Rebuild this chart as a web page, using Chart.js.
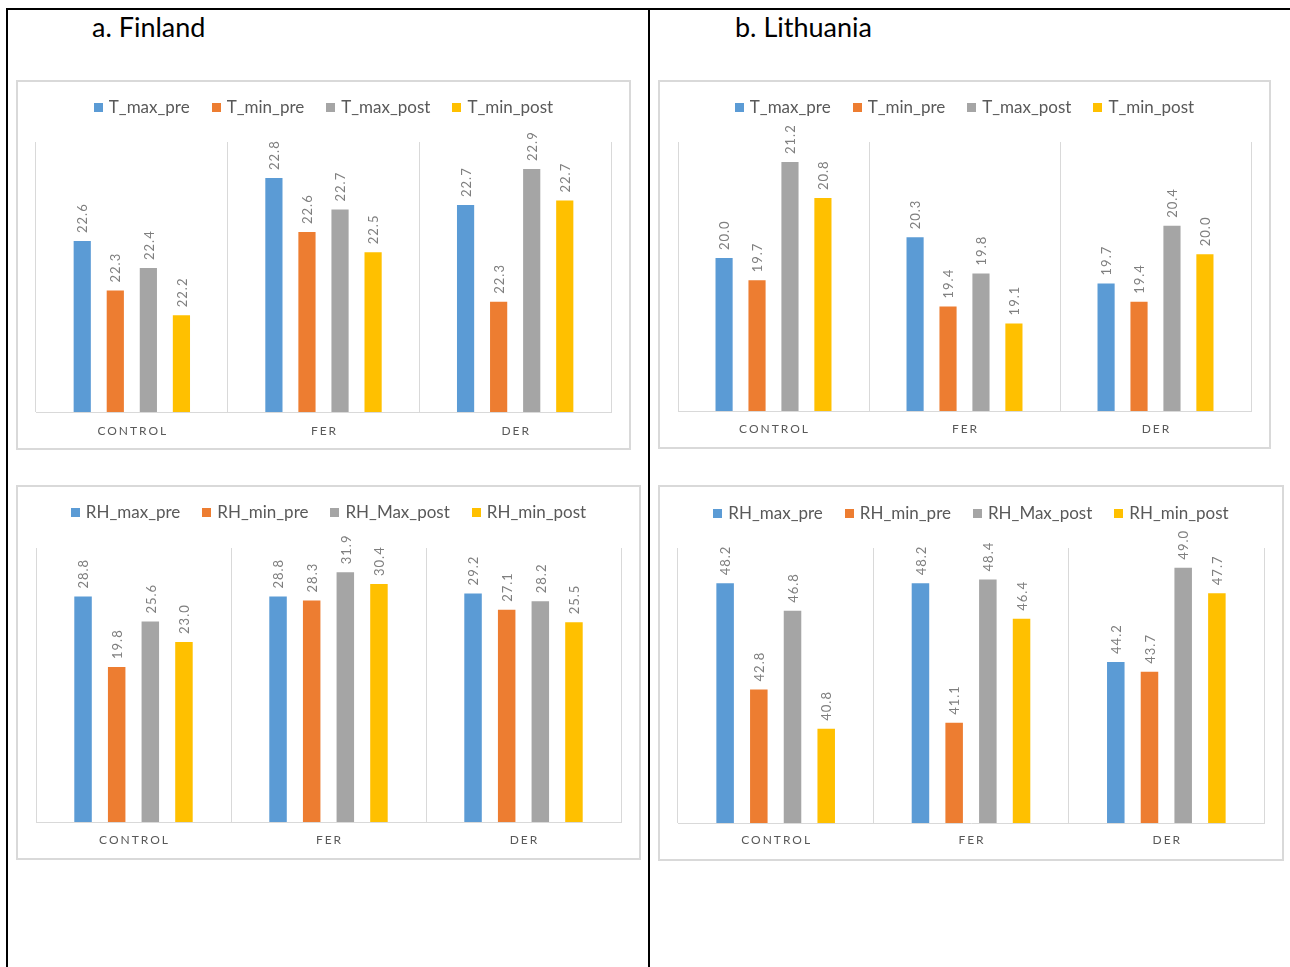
<!DOCTYPE html>
<html>
<head>
<meta charset="utf-8">
<script src="https://cdn.jsdelivr.net/npm/chart.js@4.4.0/dist/chart.umd.min.js"></script>
<style>
  body { margin: 0; background: #fff; width: 1290px; height: 967px; position: relative; overflow: hidden; font-family: Lato, sans-serif; }
  .line { position: absolute; background: #000; }
  .head { position: absolute; font-size: 27px; line-height: 1; color: #000; }
  .panel { position: absolute; box-sizing: border-box; border: 2px solid #d9d9d9; background: #fff; }
  .panel canvas { display: block; }
</style>
</head>
<body>
<div class="line" style="left:6px;top:8px;width:1284px;height:2px"></div>
<div class="line" style="left:6px;top:8px;width:2px;height:959px"></div>
<div class="line" style="left:648px;top:8px;width:2px;height:959px"></div>
<div class="head" style="left:92px;top:13px">a. Finland</div>
<div class="head" style="left:735px;top:13px">b. Lithuania</div>

<div class="panel" style="left:16px;top:80px;width:615px;height:370px"><canvas id="finT" width="611" height="366"></canvas></div>
<div class="panel" style="left:658px;top:80px;width:613px;height:369px"><canvas id="litT" width="609" height="365"></canvas></div>
<div class="panel" style="left:16px;top:485px;width:625px;height:375px"><canvas id="finRH" width="621" height="371"></canvas></div>
<div class="panel" style="left:658px;top:485px;width:626px;height:376px"><canvas id="litRH" width="622" height="372"></canvas></div>

<script>
// categories and series names
const categories = ['CONTROL', 'FER', 'DER'];
const tSeries = ['T_max_pre', 'T_min_pre', 'T_max_post', 'T_min_post'];
const rhSeries = ['RH_max_pre', 'RH_min_pre', 'RH_Max_post', 'RH_min_post'];
const colors = ['#5b9bd5', '#ed7d31', '#a5a5a5', '#ffc000'];

// a. Finland, temperature
const finT_max_pre = [22.56, 22.84, 22.72];
const finT_min_pre = [22.34, 22.60, 22.29];
const finT_max_post = [22.44, 22.70, 22.88];
const finT_min_post = [22.23, 22.51, 22.74];

// b. Lithuania, temperature
const litT_max_pre = [19.99, 20.26, 19.66];
const litT_min_pre = [19.70, 19.36, 19.42];
const litT_max_post = [21.24, 19.79, 20.41];
const litT_min_post = [20.77, 19.14, 20.04];

// a. Finland, relative humidity
const finRH_max_pre = [28.8, 28.8, 29.2];
const finRH_min_pre = [19.8, 28.3, 27.1];
const finRH_max_post = [25.6, 31.9, 28.2];
const finRH_min_post = [23.0, 30.4, 25.5];

// b. Lithuania, relative humidity
const litRH_max_pre = [48.2, 48.2, 44.2];
const litRH_min_pre = [42.8, 41.1, 43.7];
const litRH_max_post = [46.8, 48.4, 49.0];
const litRH_min_post = [40.8, 46.4, 47.7];

Chart.defaults.font.family = 'Lato';

// numbers above the bars, rotated
const valueLabels = {
  id: 'valueLabels',
  afterDatasetsDraw(chart) {
    const ctx = chart.ctx;
    ctx.save();
    ctx.font = '13px Lato';
    ctx.letterSpacing = '1px';
    ctx.fillStyle = '#7f7f7f';
    ctx.textAlign = 'left';
    ctx.textBaseline = 'middle';
    chart.data.datasets.forEach((ds, i) => {
      chart.getDatasetMeta(i).data.forEach((bar, j) => {
        ctx.save();
        ctx.translate(bar.x + 1, bar.y - 8);
        ctx.rotate(-Math.PI / 2);
        ctx.fillText(ds.data[j].toFixed(1), 0, 0);
        ctx.restore();
      });
    });
    ctx.restore();
  }
};

// legend row at the top
const topLegend = {
  id: 'topLegend',
  afterDraw(chart, args, opts) {
    const ctx = chart.ctx;
    ctx.save();
    ctx.font = '17px Lato';
    ctx.textBaseline = 'middle';
    ctx.textAlign = 'left';
    const box = 9, gap = 6, space = 22;
    const items = chart.data.datasets.map(ds => ({ text: ds.label, color: ds.backgroundColor, w: ctx.measureText(ds.label).width }));
    const total = items.reduce((s, it) => s + box + gap + it.w, 0) + space * (items.length - 1);
    let x = (chart.width - total) / 2;
    items.forEach(it => {
      ctx.fillStyle = it.color;
      ctx.fillRect(Math.round(x), opts.y - 4, box, box);
      ctx.fillStyle = '#595959';
      ctx.fillText(it.text, x + box + gap, opts.y + 1);
      x += box + gap + it.w + space;
    });
    ctx.restore();
  }
};

// spaced category names under the axis
const catLabels = {
  id: 'catLabels',
  afterDraw(chart, args, opts) {
    const ctx = chart.ctx;
    const xs = chart.scales.x;
    ctx.save();
    ctx.font = '12px Lato';
    ctx.letterSpacing = '2px';
    ctx.fillStyle = '#595959';
    ctx.textAlign = 'center';
    ctx.textBaseline = 'middle';
    chart.data.labels.forEach((lab, i) => {
      ctx.fillText(lab, xs.getPixelForValue(i) + 1, chart.chartArea.bottom + opts.dy);
    });
    ctx.restore();
  }
};

function makeChart(id, names, series, min, max, top, legendY, dy) {
  return new Chart(document.getElementById(id), {
    type: 'bar',
    data: {
      labels: categories,
      datasets: series.map((d, i) => ({
        label: names[i],
        data: d,
        backgroundColor: colors[i],
        borderWidth: 0,
        categoryPercentage: 0.69,
        barPercentage: 0.52
      }))
    },
    options: {
      responsive: false,
      animation: false,
      layout: { padding: { left: 18, right: 18, top: top, bottom: 36 } },
      plugins: {
        legend: { display: false },
        tooltip: { enabled: false },
        topLegend: { y: legendY },
        catLabels: { dy: dy }
      },
      scales: {
        x: {
          grid: { color: '#d9d9d9', offset: true, drawTicks: false },
          border: { color: '#d9d9d9' },
          ticks: { display: false }
        },
        y: { display: false, min: min, max: max }
      }
    },
    plugins: [valueLabels, topLegend, catLabels]
  });
}

makeChart('finT', tSeries, [finT_max_pre, finT_min_pre, finT_max_post, finT_min_post], 21.8, 23.0, 60, 25, 19);
makeChart('litT', tSeries, [litT_max_pre, litT_min_pre, litT_max_post, litT_min_post], 18, 21.5, 60, 25, 18);
makeChart('finRH', rhSeries, [finRH_max_pre, finRH_min_pre, finRH_max_post, finRH_min_post], 0, 35, 61, 25, 18);
makeChart('litRH', rhSeries, [litRH_max_pre, litRH_min_pre, litRH_max_post, litRH_min_post], 36, 50, 61, 26, 17);
</script>
</body>
</html>
